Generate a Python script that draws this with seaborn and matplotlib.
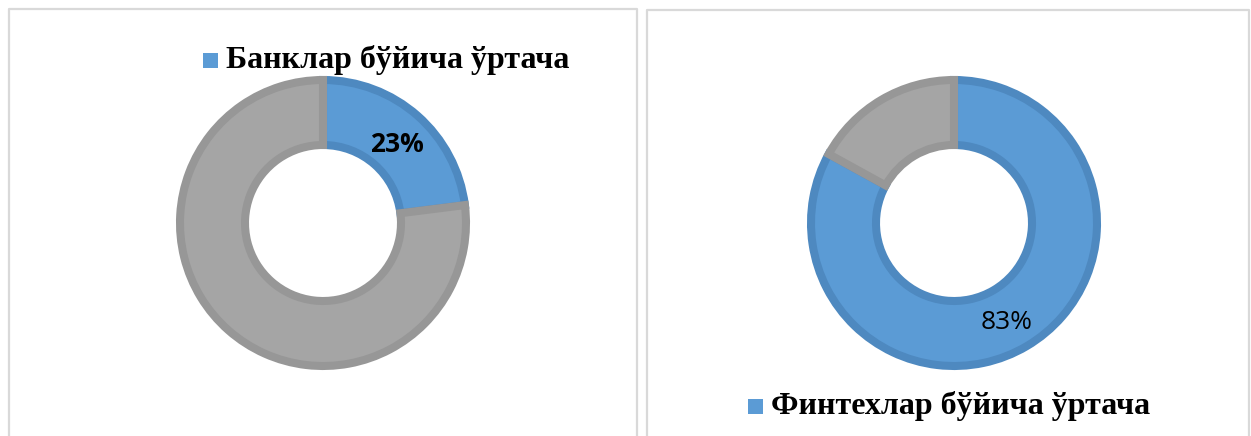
import matplotlib
matplotlib.use("Agg")
import matplotlib.pyplot as plt
import seaborn as sns
from matplotlib.patches import Rectangle
from matplotlib.lines import Line2D

sns.set_style("white")

# data
labels_left = ["Банклар бўйича ўртача", ""]
values_left = [23, 77]
labels_right = ["Финтехлар бўйича ўртача", ""]
values_right = [83, 17]

fill_colors = ["#5B9BD5", "#A5A5A5"]
edge_colors = ["#4E89C0", "#979797"]

W, H = 1251, 436
fig = plt.figure(figsize=(W / 100, H / 100), dpi=100)
fig.patch.set_facecolor("white")

# panel frames (open at the bottom)
for x0, x1, y0 in [(9, 637, 9), (647, 1249, 10)]:
    xs = [x0 / W, x0 / W, x1 / W, x1 / W]
    ys = [0, 1 - y0 / H, 1 - y0 / H, 0]
    fig.add_artist(Line2D(xs, ys, transform=fig.transFigure,
                          color="#D9D9D9", linewidth=1.6))

half = 160  # px


def donut(cx, cy, values, label_txt, pct_pos, pct_bold, legend_xy):
    ax = fig.add_axes([(cx - half) / W, 1 - (cy + half) / H, 2 * half / W, 2 * half / H])
    wedges, _ = ax.pie(values, radius=143 / half, startangle=90, counterclock=False,
                       colors=fill_colors,
                       wedgeprops=dict(width=65 / half, linewidth=5.8))
    for w, ec in zip(wedges, edge_colors):
        w.set_edgecolor(ec)
    ax.set_xlim(-1, 1)
    ax.set_ylim(-1, 1)
    ax.set_aspect("equal")
    ax.axis("off")
    # percentage label
    px, py = pct_pos
    fig.text(px / W, 1 - py / H, f"{values[0]}%", ha="center", va="center",
             fontsize=19, fontfamily="Open Sans",
             fontweight="bold" if pct_bold else "normal", color="black")
    # legend
    lx, ly = legend_xy
    fig.add_artist(Rectangle((lx / W, 1 - (ly + 8) / H), 15 / W, 15 / H,
                             transform=fig.transFigure, facecolor=fill_colors[0],
                             edgecolor="none"))
    fig.text((lx + 23) / W, 1 - ly / H, label_txt, ha="left", va="center",
             fontsize=23, fontfamily="Liberation Serif", fontweight="bold",
             color="black")


donut(323, 223, values_left, labels_left[0], (397, 145), True, (203, 60))
donut(954, 223, values_right, labels_right[0], (1007, 322), False, (748, 406))

fig.savefig("out.png", dpi=100, facecolor="white")
